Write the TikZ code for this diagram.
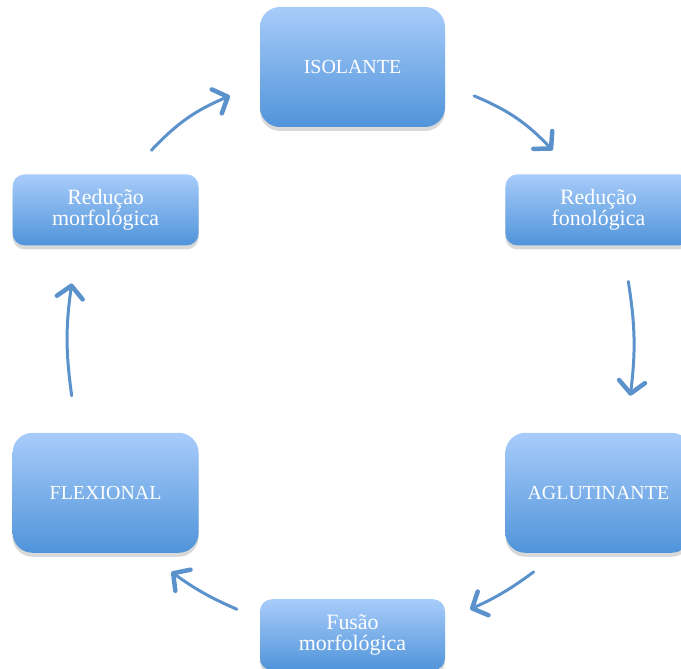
\documentclass[tikz,border=0pt]{standalone}
\usepackage{fontspec}
\setmainfont{Liberation Serif}
\usepackage{tikz}
\usetikzlibrary{arrows.meta,positioning,shadows}
\definecolor{azulclaro}{RGB}{168,204,250}
\definecolor{azulescuro}{RGB}{80,148,218}
\definecolor{azulseta}{RGB}{92,146,204}

\begin{document}
\begin{tikzpicture}[x=1bp,y=1bp,
tipo/.style={rounded corners=20bp,top color=azulclaro,bottom color=azulescuro,draw=none,text=white,minimum width=185bp,minimum height=120bp,align=center,font=\fontsize{20}{22}\selectfont,drop shadow={shadow xshift=0bp,shadow yshift=-4bp,opacity=.3}},
processo/.style={tipo,rounded corners=12bp,minimum width=186bp,minimum height=71bp,font=\fontsize{22}{21}\selectfont},
seta/.style={-{Straight Barb[round,length=12bp,width=26bp,line width=4.5bp]},line width=3bp,draw=azulseta,line cap=round}
]
\useasboundingbox (0,0) rectangle (681,669);
\clip (0,0) rectangle (681,669);
\node[tipo] (iso) at (352.5,602) {ISOLANTE};
\node[processo,below right=47bp and 60bp of iso] (redfon) {Redução\\fonológica};
\node[processo,below left=47bp and 61bp of iso] (redmor) {Redução\\morfológica};
\node[tipo,minimum width=186bp,below=187bp of redfon] (aglu) {AGLUTINANTE};
\node[tipo,minimum width=186bp,below=187bp of redmor] (flex) {FLEXIONAL};
\node[processo,minimum width=185bp,below left=46bp and 60bp of aglu] (fusao) {Fusão\\morfológica};

\draw[seta] ([xshift=46,yshift=24]redmor.north) to[bend left=12] ([xshift=-30,yshift=-29]iso.west);
\draw[seta] ([xshift=29,yshift=-29]iso.east) to[bend left=12] ([xshift=-46,yshift=24]redfon.north);
\draw[seta] ([xshift=30,yshift=-36]redfon.south) to[bend left=8] ([xshift=32,yshift=37]aglu.north);
\draw[seta] ([xshift=-65,yshift=-19]aglu.south) to[bend left=6] ([xshift=25,yshift=25.5]fusao.east);
\draw[seta] ([xshift=-23,yshift=25.5]fusao.west) to[bend left=6] ([xshift=66,yshift=-19]flex.south);
\draw[seta] ([xshift=-34,yshift=37]flex.north) to[bend left=8] ([xshift=-34,yshift=-38]redmor.south);
\end{tikzpicture}
\end{document}
